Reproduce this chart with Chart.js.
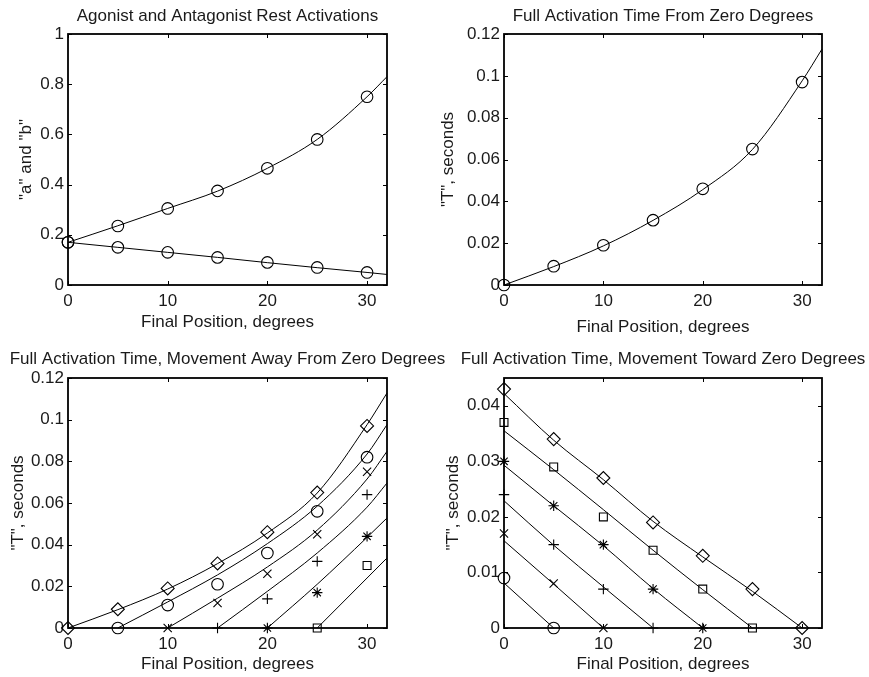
<!DOCTYPE html>
<html>
<head>
<meta charset="utf-8">
<title>Rest activations and full activation times</title>
<script src="https://cdn.jsdelivr.net/npm/chart.js@4.4.1/dist/chart.umd.min.js"></script>
<style>
  html, body { margin: 0; padding: 0; background: #fff; overflow: hidden; }
  #wrap { position: relative; width: 869px; height: 677px; overflow: hidden; }
  canvas { position: absolute; }
</style>
</head>
<body>
<div id="wrap">
  <canvas id="restChart" width="455" height="338" style="left:0;top:0"></canvas>
  <canvas id="zeroChart" width="458" height="338" style="left:434px;top:0"></canvas>
  <canvas id="awayChart" width="455" height="339" style="left:0;top:338px"></canvas>
  <canvas id="towardChart" width="458" height="339" style="left:434px;top:338px"></canvas>
</div>
<script>
// final positions (degrees) where times / activations were measured
const positions = [0, 5, 10, 15, 20, 25, 30];
// fitted curves are sampled at the same positions plus the axis end
const fitPositions = [0, 5, 10, 15, 20, 25, 30, 32];

// rest activations, agonist ("a") and antagonist ("b")
const agonistRest = [0.17, 0.235, 0.305, 0.375, 0.465, 0.58, 0.75];
const antagonistRest = [0.17, 0.15, 0.13, 0.11, 0.09, 0.07, 0.05];
const agonistFit = [0.17, 0.236, 0.305, 0.374, 0.465, 0.58, 0.75, 0.83];
const antagonistFit = [0.17, 0.15, 0.13, 0.11, 0.089, 0.069, 0.05, 0.042];

// full activation time starting from zero degrees
const fromZero = [0, 0.009, 0.019, 0.031, 0.046, 0.065, 0.097];
const fromZeroFit = [0, 0.0088, 0.0187, 0.0309, 0.0456, 0.0648, 0.0976, 0.1128];

// movement away from zero, by start position (markers from start to 30)
const away5 = [0, 0.011, 0.021, 0.036, 0.056, 0.082];
const away10 = [0, 0.012, 0.026, 0.045, 0.075];
const away15 = [0, 0.014, 0.032, 0.064];
const away20 = [0, 0.017, 0.044];
const away25 = [0, 0.03];
// fits from start position to 32
const awayFit5 = [0, 0.0125, 0.0255, 0.0405, 0.0585, 0.0835, 0.0976];
const awayFit10 = [0, 0.0143, 0.0293, 0.047, 0.0715, 0.0848];
const awayFit15 = [0, 0.0176, 0.036, 0.058, 0.0696];
const awayFit20 = [0, 0.021, 0.0435, 0.0528];
const awayFit25 = [0, 0.024, 0.0336];

// movement toward zero, by start position (markers from 0 up to start)
const toward30 = [0.043, 0.034, 0.027, 0.019, 0.013, 0.007, 0];
const toward25 = [0.037, 0.029, 0.02, 0.014, 0.007, 0];
const toward20 = [0.03, 0.022, 0.015, 0.007, 0];
const toward15 = [0.024, 0.015, 0.007, 0];
const toward10 = [0.017, 0.008, 0];
const toward5 = [0.009, 0];
const towardFit30 = [0.0422, 0.0338, 0.0267, 0.0192, 0.0128, 0.0066, 0];
const towardFit25 = [0.0355, 0.0285, 0.0213, 0.014, 0.0069, 0];
const towardFit20 = [0.0293, 0.022, 0.0148, 0.0071, 0];
const towardFit15 = [0.0229, 0.0149, 0.0074, 0];
const towardFit10 = [0.0157, 0.0079, 0];
const towardFit5 = [0.0081, 0];

const FONT = '"Liberation Sans", Arial, Helvetica, sans-serif';
Chart.defaults.font.family = FONT;
Chart.defaults.font.size = 17;
Chart.defaults.color = "#1a1a1a";
Chart.defaults.animation = false;

// marker sizes per point style
const markerRadius = { circle: 5.8, rectRot: 6.5, rect: 5.6, cross: 5.2, crossRot: 5.8, star: 5.2 };

const from = (xs, s) => xs.filter((p) => p >= s);
const upTo = (xs, e) => xs.filter((p) => p <= e);
const pairs = (xs, ys) => ys.map((y, i) => ({ x: xs[i], y }));

function fitLine(xs, ys) {
  return {
    data: pairs(xs, ys),
    borderColor: "#000",
    borderWidth: 1,
    pointRadius: 0,
    cubicInterpolationMode: "monotone",
    clip: false,
  };
}

function markers(xs, ys, style) {
  return {
    data: pairs(xs, ys),
    showLine: false,
    pointStyle: style,
    pointRadius: markerRadius[style],
    pointBorderWidth: 1.1,
    pointBorderColor: "#000",
    pointBackgroundColor: "rgba(0,0,0,0)",
    clip: false,
  };
}

// closed box with inward ticks on all four sides, title centred over the axes
const boxAxes = {
  id: "boxAxes",
  afterDatasetsDraw(chart, args, opts) {
    const { ctx, chartArea: a, scales } = chart;
    const tick = 4;
    ctx.save();
    ctx.strokeStyle = "#000";
    ctx.lineWidth = 1;
    ctx.beginPath();
    scales.x.ticks.forEach((t) => {
      const px = Math.round(scales.x.getPixelForValue(t.value)) + 0.5;
      ctx.moveTo(px, a.bottom);
      ctx.lineTo(px, a.bottom - tick);
      ctx.moveTo(px, a.top);
      ctx.lineTo(px, a.top + tick);
    });
    scales.y.ticks.forEach((t) => {
      const py = Math.round(scales.y.getPixelForValue(t.value)) + 0.5;
      ctx.moveTo(a.left, py);
      ctx.lineTo(a.left + tick, py);
      ctx.moveTo(a.right, py);
      ctx.lineTo(a.right - tick, py);
    });
    ctx.stroke();
    ctx.lineWidth = 1.8;
    ctx.strokeRect(a.left, a.top, a.right - a.left, a.bottom - a.top);

    ctx.fillStyle = "#1a1a1a";
    ctx.font = "17px " + FONT;
    ctx.textAlign = "center";
    ctx.textBaseline = "middle";
    ctx.fillText(opts.text, (a.left + a.right) / 2, opts.y);
    ctx.restore();
  },
};

function makeChart(id, c) {
  new Chart(document.getElementById(id), {
    type: "line",
    data: { datasets: c.datasets },
    plugins: [boxAxes],
    options: {
      responsive: false,
      events: [],
      layout: { padding: { left: 0, right: c.right, top: c.top, bottom: 0 } },
      plugins: {
        legend: { display: false },
        tooltip: { enabled: false },
        title: { display: false },
        boxAxes: { text: c.title, y: c.titleY },
      },
      scales: {
        x: {
          type: "linear",
          min: 0,
          max: 32,
          grid: { display: false, drawTicks: false },
          border: { display: false },
          ticks: { stepSize: 10, includeBounds: false, padding: 6.5, maxRotation: 0, autoSkip: false },
          title: { display: true, text: "Final Position, degrees", padding: { top: 0, bottom: c.xTitleBottom } },
          afterFit: (s) => { s.height = c.xHeight; },
        },
        y: {
          type: "linear",
          min: 0,
          max: c.yMax,
          grid: { display: false, drawTicks: false },
          border: { display: false },
          ticks: {
            stepSize: c.yStep,
            includeBounds: false,
            padding: 4,
            autoSkip: false,
            callback: (v) => String(+v.toFixed(4)),
          },
          title: { display: true, text: c.yTitle, padding: { top: c.yTitleTop, bottom: 0 } },
          afterFit: (s) => { s.width = c.yWidth; },
        },
      },
    },
  });
}

makeChart("restChart", {
  title: "Agonist and Antagonist Rest Activations",
  titleY: 16, top: 34,
  yTitle: '"a" and "b"',
  yMax: 1, yStep: 0.2,
  right: 68, yWidth: 68, yTitleTop: 15.8,
  xHeight: 53, xTitleBottom: 5.8,
  datasets: [
    fitLine(fitPositions, agonistFit),
    fitLine(fitPositions, antagonistFit),
    markers(positions, agonistRest, "circle"),
    markers(positions, antagonistRest, "circle"),
  ],
});

makeChart("zeroChart", {
  title: "Full Activation Time From Zero Degrees",
  titleY: 16, top: 34,
  yTitle: '"T", seconds',
  yMax: 0.12, yStep: 0.02,
  right: 70, yWidth: 70, yTitleTop: 3.8,
  xHeight: 53, xTitleBottom: 0.8,
  datasets: [
    fitLine(fitPositions, fromZeroFit),
    markers(positions, fromZero, "circle"),
  ],
});

makeChart("awayChart", {
  title: "Full Activation Time, Movement Away From Zero Degrees",
  titleY: 21, top: 40,
  yTitle: '"T", seconds',
  yMax: 0.12, yStep: 0.02,
  right: 68, yWidth: 68, yTitleTop: 7.8,
  xHeight: 49, xTitleBottom: 2.8,
  datasets: [
    fitLine(fitPositions, fromZeroFit),
    fitLine(from(fitPositions, 5), awayFit5),
    fitLine(from(fitPositions, 10), awayFit10),
    fitLine(from(fitPositions, 15), awayFit15),
    fitLine(from(fitPositions, 20), awayFit20),
    fitLine(from(fitPositions, 25), awayFit25),
    markers(positions, fromZero, "rectRot"),
    markers(from(positions, 5), away5, "circle"),
    markers(from(positions, 10), away10, "crossRot"),
    markers(from(positions, 15), away15, "cross"),
    markers(from(positions, 20), away20, "star"),
    markers(from(positions, 25), away25, "rect"),
  ],
});

makeChart("towardChart", {
  title: "Full Activation Time, Movement Toward Zero Degrees",
  titleY: 21, top: 40,
  yTitle: '"T", seconds',
  yMax: 0.045, yStep: 0.01,
  right: 70, yWidth: 70, yTitleTop: 8.8,
  xHeight: 49, xTitleBottom: 2.8,
  datasets: [
    fitLine(upTo(positions, 30), towardFit30),
    fitLine(upTo(positions, 25), towardFit25),
    fitLine(upTo(positions, 20), towardFit20),
    fitLine(upTo(positions, 15), towardFit15),
    fitLine(upTo(positions, 10), towardFit10),
    fitLine(upTo(positions, 5), towardFit5),
    markers(upTo(positions, 30), toward30, "rectRot"),
    markers(upTo(positions, 25), toward25, "rect"),
    markers(upTo(positions, 20), toward20, "star"),
    markers(upTo(positions, 15), toward15, "cross"),
    markers(upTo(positions, 10), toward10, "crossRot"),
    markers(upTo(positions, 5), toward5, "circle"),
  ],
});
</script>
</body>
</html>
